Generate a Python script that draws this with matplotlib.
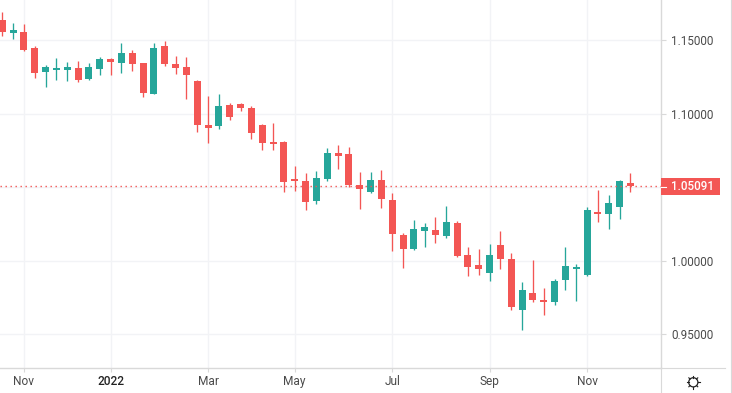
import matplotlib
matplotlib.use("Agg")
import matplotlib.pyplot as plt
import numpy as np

opens = [1.1640, 1.1551, 1.1558, 1.1450, 1.1286, 1.1300, 1.1300, 1.1314, 1.1239, 1.1307,
         1.1375, 1.1348, 1.1416, 1.1348, 1.1137, 1.1463, 1.1341, 1.1320, 1.1225, 1.0926,
         1.0919, 1.1062, 1.1068, 1.1041, 1.0925, 1.0809, 1.0809, 1.0558, 1.0544, 1.0408,
         1.0558, 1.0735, 1.0728, 1.0517, 1.0469, 1.0551, 1.0415, 1.0177, 1.0082, 1.0204,
         1.0211, 1.0170, 1.0259, 1.0041, 0.9973, 0.9919, 1.0109, 1.0014, 0.9667, 0.9783,
         0.9735, 0.9721, 0.9871, 0.9946, 0.9905, 1.0333, 1.0320, 1.0367, 1.0531]
highs = [1.1694, 1.1620, 1.1613, 1.1463, 1.1334, 1.1382, 1.1354, 1.1361, 1.1348, 1.1388,
         1.1382, 1.1484, 1.1436, 1.1348, 1.1484, 1.1497, 1.1395, 1.1388, 1.1232, 1.1123,
         1.1137, 1.1076, 1.1075, 1.1054, 1.0932, 1.0939, 1.0816, 1.0646, 1.0599, 1.0612,
         1.0769, 1.0789, 1.0775, 1.0605, 1.0605, 1.0619, 1.0463, 1.0191, 1.0279, 1.0259,
         1.0299, 1.0374, 1.0272, 1.0095, 1.0082, 1.0116, 1.0204, 1.0055, 0.9857, 1.0007,
         0.9817, 0.9878, 1.0095, 0.9980, 1.0367, 1.0483, 1.0449, 1.0551, 1.0599]
lows = [1.1531, 1.1511, 1.1429, 1.1246, 1.1184, 1.1232, 1.1225, 1.1218, 1.1232, 1.1266,
        1.1266, 1.1280, 1.1293, 1.1116, 1.1137, 1.1327, 1.1273, 1.1103, 1.0878, 1.0804,
        1.0899, 1.0960, 1.1020, 1.0830, 1.0755, 1.0755, 1.0469, 1.0476, 1.0347, 1.0388,
        1.0544, 1.0626, 1.0503, 1.0354, 1.0463, 1.0361, 1.0068, 0.9953, 1.0075, 1.0095,
        1.0123, 1.0157, 1.0027, 0.9898, 0.9905, 0.9864, 0.9946, 0.9667, 0.9531, 0.9721,
        0.9633, 0.9701, 0.9803, 0.9728, 0.9898, 1.0265, 1.0218, 1.0286, 1.0469]
closes = [1.1558, 1.1572, 1.1436, 1.1280, 1.1320, 1.1314, 1.1320, 1.1232, 1.1320, 1.1375,
          1.1354, 1.1416, 1.1341, 1.1144, 1.1450, 1.1341, 1.1314, 1.1266, 1.0926, 1.0906,
          1.1055, 1.0980, 1.1041, 1.0871, 1.0803, 1.0796, 1.0537, 1.0544, 1.0401, 1.0565,
          1.0735, 1.0714, 1.0517, 1.0490, 1.0551, 1.0422, 1.0184, 1.0082, 1.0218, 1.0231,
          1.0177, 1.0265, 1.0034, 0.9959, 0.9946, 1.0041, 1.0014, 0.9687, 0.9803, 0.9735,
          0.9721, 0.9864, 0.9966, 0.9959, 1.0347, 1.0320, 1.0395, 1.0544, 1.0509]

price_ticks = [1.15, 1.10, 1.05, 1.00, 0.95]
price_labels = ["1.15000", "1.10000", "", "1.00000", "0.95000"]
date_ticks = [2, 10, 19, 27, 36, 45, 54]
date_labels = ["Nov", "2022", "Mar", "May", "Jul", "Sep", "Nov"]
last_price = 1.05091

up_color = "#26a69a"
down_color = "#f35654"
grid_color = "#f2f3f6"
border_color = "#d9d9d9"
text_color = "#4a4a4a"

plt.rcParams["font.family"] = ["Roboto", "DejaVu Sans"]

W, H = 732, 393
fig = plt.figure(figsize=(W / 100, H / 100), dpi=100)
ax = fig.add_axes([0, (H - 368) / H, 661 / W, 368 / H])

spacing = 10.83
ax.set_xlim(-2.3 / spacing, (661 - 2.3) / spacing)
ax.set_ylim(1.17755 - 368 / 1470, 1.17755)

x = np.arange(len(opens))
o = np.array(opens)
c = np.array(closes)
colors = [up_color if b > a else down_color for a, b in zip(o, c)]

ax.vlines(x, lows, highs, colors=colors, linewidth=0.95, zorder=3)
ax.bar(x, np.abs(c - o), bottom=np.minimum(o, c), width=7 / spacing, color=colors, linewidth=0, zorder=4)

ax.axhline(last_price, color=down_color, linewidth=1, linestyle=(0, (1, 2.6)), zorder=5)

ax.set_xticks(date_ticks)
ax.set_xticklabels(date_labels)
ax.set_yticks(price_ticks)
ax.set_yticklabels(price_labels)
ax.yaxis.tick_right()
ax.grid(True, color=grid_color, linewidth=1, zorder=0)
ax.tick_params(axis="x", length=3, width=0.8, color=border_color, labelcolor=text_color, labelsize=8.6, pad=2)
ax.tick_params(axis="y", length=3.6, width=0.8, color=border_color, labelcolor=text_color, labelsize=8.4, pad=3.6)
for lbl in ax.get_xticklabels():
    if lbl.get_text() == "2022":
        lbl.set_fontweight("medium")
        lbl.set_color("#222222")

for name in ["top", "left"]:
    ax.spines[name].set_visible(False)
ax.spines["bottom"].set_color(border_color)
ax.spines["right"].set_color(border_color)
ax.spines["bottom"].set_linewidth(1)
ax.spines["right"].set_linewidth(1)

# pixel overlay for the bits outside the plot
ov = fig.add_axes([0, 0, 1, 1], facecolor="none")
ov.set_xlim(0, W)
ov.set_ylim(H, 0)
ov.axis("off")
ov.plot([661, 661], [368, 393], color=border_color, linewidth=0.8)
ov.plot([661, 725], [368, 368], color=border_color, linewidth=0.8)
ov.plot([730.5, 730.5], [0, 393], color=border_color, linewidth=0.8)

ov.add_patch(plt.Rectangle((661, 178), 58.5, 17, color=down_color, linewidth=0, zorder=6))
ov.plot([661, 666], [186.5, 186.5], color="white", linewidth=0.8, zorder=7)
ov.text(671, 186.8, f"{last_price:.5f}", color="white", fontsize=8.4, fontweight="medium", va="center", ha="left", zorder=7)

# settings gear
gx, gy = 693.3, 382.3
ov.add_patch(plt.Circle((gx, gy), 4.6, fill=False, edgecolor="#222222", linewidth=0.9))
for a in np.arange(0, 360, 45):
    r = np.deg2rad(a)
    ov.plot([gx + 4.6 * np.cos(r), gx + 6.3 * np.cos(r)], [gy + 4.6 * np.sin(r), gy + 6.3 * np.sin(r)], color="#222222", linewidth=0.8)

fig.savefig("out.png", dpi=100)
